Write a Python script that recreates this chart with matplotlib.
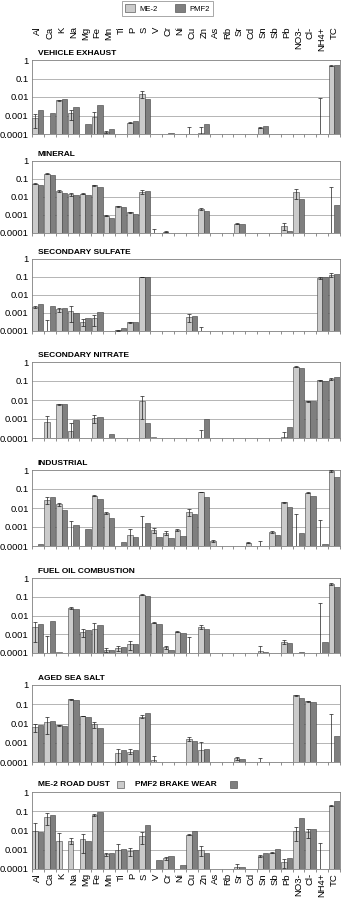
import numpy as np
import matplotlib
matplotlib.use("Agg")
import matplotlib.pyplot as plt
from matplotlib.patches import Patch, Rectangle
from matplotlib.transforms import blended_transform_factory

plt.rcParams['font.family'] = ['Liberation Sans', 'DejaVu Sans']

species = ['Al', 'Ca', 'K', 'Na', 'Mg', 'Fe', 'Mn', 'Ti', 'P', 'S', 'V', 'Cr', 'Ni',
           'Cu', 'Zn', 'As', 'Rb', 'Sr', 'Cd', 'Sn', 'Sb', 'Pb', 'NO3-', 'Cl-', 'NH4+', 'TC']

titles = ['VEHICLE EXHAUST', 'MINERAL', 'SECONDARY SULFATE', 'SECONDARY NITRATE',
          'INDUSTRIAL', 'FUEL OIL COMBUSTION', 'AGED SEA SALT', '']

# values per species in the order of `species`; 0 = below the axis
me2_vehicle = [0.0007, 0, 0.0065, 0.0013, 0, 0.0008, 0.00013, 0, 0.0004, 0.015, 0, 0, 0,
               0, 0.00012, 0, 0, 0, 0, 0.00022, 0, 0, 0, 0, 0, 0.5]
err_vehicle = [0.0005, 0, 0.0005, 0.0007, 0, 0.0008, 0.00002, 0, 0.00003, 0.006, 0, 0, 0,
               0.00025, 0.00013, 0, 0, 0, 0, 0.00002, 0, 0, 0, 0, 0.009, 0.02]
pmf2_vehicle = [0.002, 0.0013, 0.008, 0.003, 0.00035, 0.0037, 0.00019, 0, 0.0005, 0.008, 0, 0.00011, 0,
                0, 0.00033, 0, 0, 0, 0, 0.00026, 0, 0, 0, 0, 0, 0.55]

me2_mineral = [0.054, 0.2, 0.021, 0.014, 0.015, 0.044, 0.0009, 0.003, 0.0014, 0.019, 0, 0.00012, 0,
               0, 0.0022, 0, 0, 0.00033, 0, 0, 0, 0.00025, 0.018, 0, 0, 0]
err_mineral = [0.004, 0.01, 0.002, 0.002, 0.001, 0.003, 0.00007, 0.0003, 0.0001, 0.004, 0.00017, 0.00001, 0,
               0, 0.0003, 0, 0, 0.00002, 0, 0, 0, 0.0001, 0.01, 0, 0, 0.037]
pmf2_mineral = [0.044, 0.165, 0.017, 0.0125, 0.0135, 0.037, 0.00068, 0.0027, 0.0012, 0.021, 0, 0.0001, 0,
                0, 0.0016, 0, 0, 0.0003, 0, 0, 0, 0.00013, 0.0078, 0, 0, 0.0035]

me2_sulfate = [0.0022, 0, 0.0016, 0.0013, 0.00033, 0.0005, 0, 0.00011, 0.0003, 0.1, 0, 0, 0,
               0.0006, 0, 0, 0, 0, 0, 0, 0, 0, 0, 0, 0.09, 0.13]
err_sulfate = [0.0004, 0.0004, 0.0004, 0.001, 0.00015, 0.0003, 0, 0.00001, 0.00003, 0.005, 0, 0, 0,
               0.0003, 0.00016, 0, 0, 0, 0, 0, 0, 0, 0, 0, 0.01, 0.03]
pmf2_sulfate = [0.003, 0.0026, 0.002, 0.001, 0.00055, 0.0012, 0, 0.00015, 0.0003, 0.1, 0, 0, 0,
                0.0007, 0, 0, 0, 0, 0, 0, 0, 0, 0, 0, 0.1, 0.14]

me2_nitrate = [0, 0.0007, 0.006, 0.00024, 0, 0.0011, 0.0001, 0, 0, 0.009, 0.00011, 0, 0,
               0, 0, 0, 0, 0, 0, 0, 0, 0.00011, 0.56, 0.0085, 0.11, 0.13]
err_nitrate = [0, 0.0007, 0.0003, 0.0004, 0, 0.0005, 0, 0, 0, 0.008, 0, 0, 0,
               0, 0.00025, 0, 0, 0, 0, 0, 0, 0.0001, 0.02, 0.0005, 0.005, 0.02]
pmf2_nitrate = [0, 0, 0.0065, 0.0009, 0, 0.0013, 0.00016, 0, 0, 0.0006, 0, 0, 0,
                0, 0.001, 0, 0, 0, 0, 0, 0, 0.00036, 0.5, 0.009, 0.095, 0.16]

me2_industrial = [0, 0.027, 0.016, 0, 0, 0.045, 0.0055, 0, 0.0004, 0, 0.0007, 0.0005, 0.0007,
                  0.0065, 0.07, 0.00018, 0, 0, 0.00015, 0, 0.00055, 0.02, 0, 0.065, 0, 0.9]
err_industrial = [0, 0.01, 0.003, 0.002, 0, 0.004, 0.0005, 0, 0.0004, 0.004, 0.0002, 0.0001, 0.0001,
                  0.0025, 0.003, 0.00002, 0, 0, 0.00001, 0.00018, 0.00005, 0.001, 0.005, 0.005, 0.0023, 0.1]
pmf2_industrial = [0.00013, 0.04, 0.008, 0.0012, 0.0008, 0.03, 0.003, 0.00016, 0.0003, 0.0016, 0.0003, 0.00027, 0.00035,
                   0.005, 0.04, 0, 0, 0, 0, 0, 0.0004, 0.011, 0.00048, 0.045, 0.00013, 0.45]

me2_fueloil = [0.0024, 0, 0.00011, 0.025, 0.0013, 0.0018, 0.00015, 0.00018, 0.0003, 0.13, 0.0042, 0.0002, 0.0014,
               0, 0.0024, 0, 0, 0, 0, 0.00013, 0, 0.0004, 0, 0, 0, 0.5]
err_fueloil = [0.002, 0.0008, 0, 0.004, 0.0006, 0.002, 0.00004, 0.00005, 0.00015, 0.01, 0.0002, 0.00003, 0.0001,
               0.0007, 0.0006, 0, 0, 0, 0, 0.0001, 0, 0.0001, 0, 0, 0.045, 0.05]
pmf2_fueloil = [0.0036, 0.0053, 0, 0.021, 0.0017, 0.0033, 0.00014, 0.0002, 0.0003, 0.115, 0.0037, 0.00015, 0.0012,
                0, 0.002, 0, 0, 0, 0, 0.00011, 0, 0.00035, 0.00011, 0, 0.0004, 0.33]

me2_seasalt = [0.0065, 0.012, 0.008, 0.18, 0.025, 0.009, 0, 0.0003, 0.00035, 0.023, 0.00012, 0, 0,
               0.0016, 0.0004, 0, 0, 0.00016, 0, 0.0001, 0, 0, 0.3, 0.14, 0, 0]
err_seasalt = [0.003, 0.009, 0.0005, 0.005, 0.001, 0.003, 0, 0.0002, 0.0001, 0.004, 0.00008, 0, 0,
               0.0003, 0.0007, 0, 0, 0.00003, 0, 0.00007, 0, 0, 0.02, 0.005, 0, 0.03]
pmf2_seasalt = [0.008, 0.014, 0.007, 0.17, 0.022, 0.006, 0, 0.0004, 0.0004, 0.034, 0, 0, 0,
                0.0012, 0.00045, 0, 0, 0.00014, 0, 0, 0, 0, 0.2, 0.13, 0, 0.0022]

me2_roaddust = [0.01, 0.05, 0.003, 0.003, 0.0037, 0.065, 0.0006, 0.001, 0.0009, 0.005, 0, 0.00037, 0,
                0.006, 0.001, 0, 0, 0.00013, 0, 0.00048, 0.0007, 0.00023, 0.009, 0.008, 0, 0.19]
err_roaddust = [0.015, 0.03, 0.004, 0.001, 0.003, 0.006, 0.0001, 0.001, 0.0004, 0.003, 0, 0.00006, 0,
                0.0005, 0.0005, 0, 0, 0.00006, 0, 0.00006, 0.00005, 0.00012, 0.006, 0.004, 0.0023, 0.01]
pmf2_brakewear = [0.0085, 0.065, 0, 0, 0.003, 0.095, 0.0007, 0.0011, 0.001, 0.019, 0.0003, 0.0005, 0.00017,
                  0.01, 0.00065, 0, 0, 0.00013, 0, 0.0007, 0.0011, 0.00037, 0.045, 0.012, 0, 0.35]

me2_all = [me2_vehicle, me2_mineral, me2_sulfate, me2_nitrate, me2_industrial, me2_fueloil, me2_seasalt, me2_roaddust]
err_all = [err_vehicle, err_mineral, err_sulfate, err_nitrate, err_industrial, err_fueloil, err_seasalt, err_roaddust]
pmf2_all = [pmf2_vehicle, pmf2_mineral, pmf2_sulfate, pmf2_nitrate, pmf2_industrial, pmf2_fueloil, pmf2_seasalt, pmf2_brakewear]

light = '#cbcbcb'
dark = '#7f7f7f'
W, H = 346, 898
tops = [60, 161, 259, 362, 470, 578, 685, 792]
bottoms = [134, 233, 331, 438, 546, 653, 762, 869]
left, right = 32, 340

fig = plt.figure(figsize=(W / 100, H / 100), dpi=100)
x = np.arange(len(species))
bw = 0.46

for i in range(8):
    t, b = tops[i], bottoms[i]
    ax = fig.add_axes([left / W, 1 - b / H, (right - left) / W, (b - t) / H])
    ax.set_yscale('log', nonpositive='clip')
    me2 = np.array(me2_all[i], dtype=float)
    pmf2 = np.array(pmf2_all[i], dtype=float)
    err = np.array(err_all[i], dtype=float)
    ax.bar(x - bw / 2, np.where(me2 > 0, me2, np.nan), bw, color=light, edgecolor='#404040', linewidth=0.4, zorder=3)
    ax.bar(x + bw / 2, np.where(pmf2 > 0, pmf2, np.nan), bw, color=dark, edgecolor='#404040', linewidth=0.4, zorder=3)
    # ME-2 uncertainty: symmetric, lower end clipped at the axis floor
    m = err > 0
    y0 = np.maximum(me2[m], 1e-6)
    lo = np.where(me2[m] > 0, np.maximum(me2[m] - err[m], 1e-6), 1e-6)
    ax.errorbar((x - bw / 2)[m], y0, yerr=[y0 - lo, me2[m] + err[m] - y0],
                fmt='none', ecolor='#202020', elinewidth=0.5, capsize=1.5, capthick=0.5, zorder=4)
    ax.set_ylim(1e-4, 1)
    ax.set_xlim(-0.5, len(species) - 0.5)
    ax.set_yticks([1, 0.1, 0.01, 0.001, 0.0001], ['1', '0.1', '0.01', '0.001', '0.0001'])
    ax.yaxis.set_minor_locator(matplotlib.ticker.NullLocator())
    ax.tick_params(axis='y', length=0, labelsize=6.8, pad=2.5)
    for g in [0.1, 0.01, 0.001]:
        ax.axhline(g, color='#a8a8a8', lw=0.6, zorder=1)
    ax.set_xticks(x)
    ax.set_xticks(np.arange(len(species) + 1) - 0.5, minor=True)
    ax.tick_params(axis='x', which='major', length=0)
    ax.tick_params(axis='x', which='minor', length=2, width=0.5, color='#606060', direction='out')
    if i == 7:
        ax.set_xticklabels(species, rotation=90, fontsize=6.8)
        ax.tick_params(axis='x', which='major', pad=3)
    else:
        ax.set_xticklabels([])
    if i == 0:
        # species names repeated above the first panel, hanging from a common top line
        tr = blended_transform_factory(ax.transData, fig.transFigure)
        for xi, name in zip(x, species):
            ax.text(xi, 1 - 26.5 / H, name, transform=tr, rotation=90, fontsize=6.8,
                    ha='center', va='top', clip_on=False)
    for s in ax.spines.values():
        s.set_color('#808080')
        s.set_linewidth(0.6)
    if titles[i]:
        fig.text(38 / W, 1 - (t - 6.5) / H, titles[i], fontsize=6, fontweight='bold', va='center', ha='left')

# last panel title with its own keys
yt = 1 - 784 / H
fig.text(38 / W, yt, 'ME-2 ROAD DUST', fontsize=6, fontweight='bold', va='center', ha='left')
fig.patches.append(Rectangle((117 / W, yt - 3.5 / H), 7 / W, 7 / H, transform=fig.transFigure,
                             facecolor=light, edgecolor='#404040', linewidth=0.4))
fig.text(135 / W, yt, 'PMF2 BRAKE WEAR', fontsize=6, fontweight='bold', va='center', ha='left')
fig.patches.append(Rectangle((230 / W, yt - 3.5 / H), 7 / W, 7 / H, transform=fig.transFigure,
                             facecolor=dark, edgecolor='#404040', linewidth=0.4))

handles = [Patch(facecolor=light, edgecolor='#404040', linewidth=0.4, label='ME-2'),
           Patch(facecolor=dark, edgecolor='#404040', linewidth=0.4, label='PMF2')]
leg = fig.legend(handles=handles, loc='center', bbox_to_anchor=(167.5 / W, 1 - 8.5 / H), ncol=2,
                 fontsize=5.5, frameon=True, fancybox=False, edgecolor='#808080',
                 handlelength=1.3, handleheight=1.1, columnspacing=2.2, borderpad=0.4, handletextpad=0.6)
leg.get_frame().set_linewidth(0.6)

fig.savefig('out.png', dpi=100)
